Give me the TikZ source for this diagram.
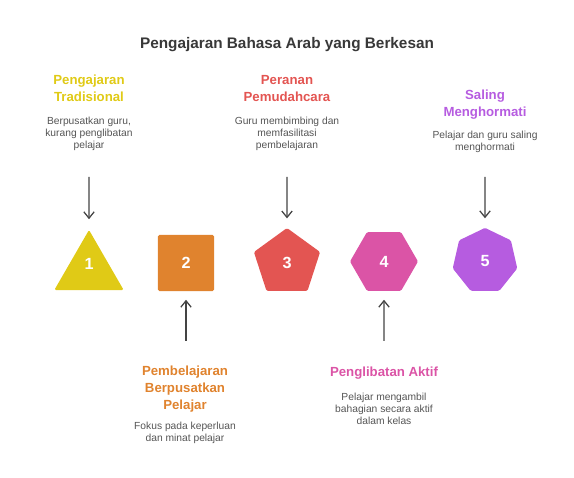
\documentclass[tikz,border=0pt]{standalone}
\usepackage{fontspec}
\setmainfont{Liberation Sans}
\usepackage{xcolor}
\usepackage{tikz}
\usetikzlibrary{shapes.geometric, arrows.meta, positioning}
\definecolor{tradi}{RGB}{224,202,22}
\definecolor{pusat}{RGB}{224,131,46}
\definecolor{peran}{RGB}{227,85,82}
\definecolor{libat}{RGB}{219,84,166}
\definecolor{hormat}{RGB}{182,92,224}
\definecolor{txtgrey}{RGB}{85,85,85}
\definecolor{arrowgrey}{RGB}{68,68,68}

\begin{document}
\begin{tikzpicture}[
    x=0.025cm, y=-0.025cm,
    shapebox/.style={draw=none, text=white, font=\bfseries\fontsize{11.5}{12}\selectfont, inner sep=0pt, outer sep=0pt, rounded corners=1pt},
    headtxt/.style={align=center, font=\bfseries\fontsize{9.4}{12.1}\selectfont, inner sep=0pt},
    desctxt/.style={align=center, text=txtgrey, font=\fontsize{7.3}{8.5}\selectfont, inner sep=0pt},
    arrow/.style={-{Straight Barb[length=1.6mm,width=2.6mm]}, line width=0.9pt, arrowgrey, shorten >=0.27cm}
]
\useasboundingbox (0,0) rectangle (574,478);

\node[font=\bfseries\fontsize{10.9}{13}\selectfont, text=black!78] (title) at (287,45) {Pengajaran Bahasa Arab yang Berkesan};

% shapes
\node[shapebox, regular polygon, regular polygon sides=3, minimum size=2cm, fill=tradi] (s1) at (89,270) {\raisebox{0.3cm}{1}};
\node[shapebox, rectangle, minimum size=1.4cm, fill=pusat] (s2) at (186,263) {2};
\node[shapebox, regular polygon, regular polygon sides=5, minimum size=1.74cm, fill=peran] (s3) at (287,262.8) {3};
\node[shapebox, regular polygon, regular polygon sides=6, minimum size=1.7cm, fill=libat] (s4) at (384,261.5) {4};
\node[shapebox, regular polygon, regular polygon sides=7, minimum size=1.655cm, fill=hormat] (s5) at (485,261) {5};

% labels above
\node[headtxt, text=tradi] (h1) at (89,88.5) {Pengajaran\\Tradisional};
\node[desctxt] (d1) at (89,134) {Berpusatkan guru,\\kurang penglibatan\\pelajar};
\node[headtxt, text=peran] (h3) at (287,88.5) {Peranan\\Pemudahcara};
\node[desctxt] (d3) at (287,134) {Guru membimbing dan\\memfasilitasi\\pembelajaran};
\node[headtxt, text=hormat] (h5) at (485,105) {Saling\\Menghormati};
\node[desctxt] (d5) at (485,142) {Pelajar dan guru saling\\menghormati};

% labels below
\node[headtxt, text=pusat] (h2) at (185,389) {Pembelajaran\\Berpusatkan\\Pelajar};
\node[desctxt] (d2) at (185,433) {Fokus pada keperluan\\dan minat pelajar};
\node[headtxt, text=libat] (h4) at (384,373) {Penglibatan Aktif};
\node[desctxt] (d4) at (384,409) {Pelajar mengambil\\bahagian secara aktif\\dalam kelas};

% arrows
\coordinate (a1) at (89,177);
\coordinate (a2) at (186,341);
\coordinate (a3) at (287,177);
\coordinate (a4) at (384,341);
\coordinate (a5) at (485,177);
\draw[arrow] (a1) -- (s1);
\draw[arrow, shorten >=0.22cm] (a2) -- (s2);
\draw[arrow, shorten >=0.24cm] (a3) -- (s3);
\draw[arrow, shorten >=0.22cm] (a4) -- (s4);
\draw[arrow, shorten >=0.24cm] (a5) -- (s5);
\end{tikzpicture}
\end{document}
